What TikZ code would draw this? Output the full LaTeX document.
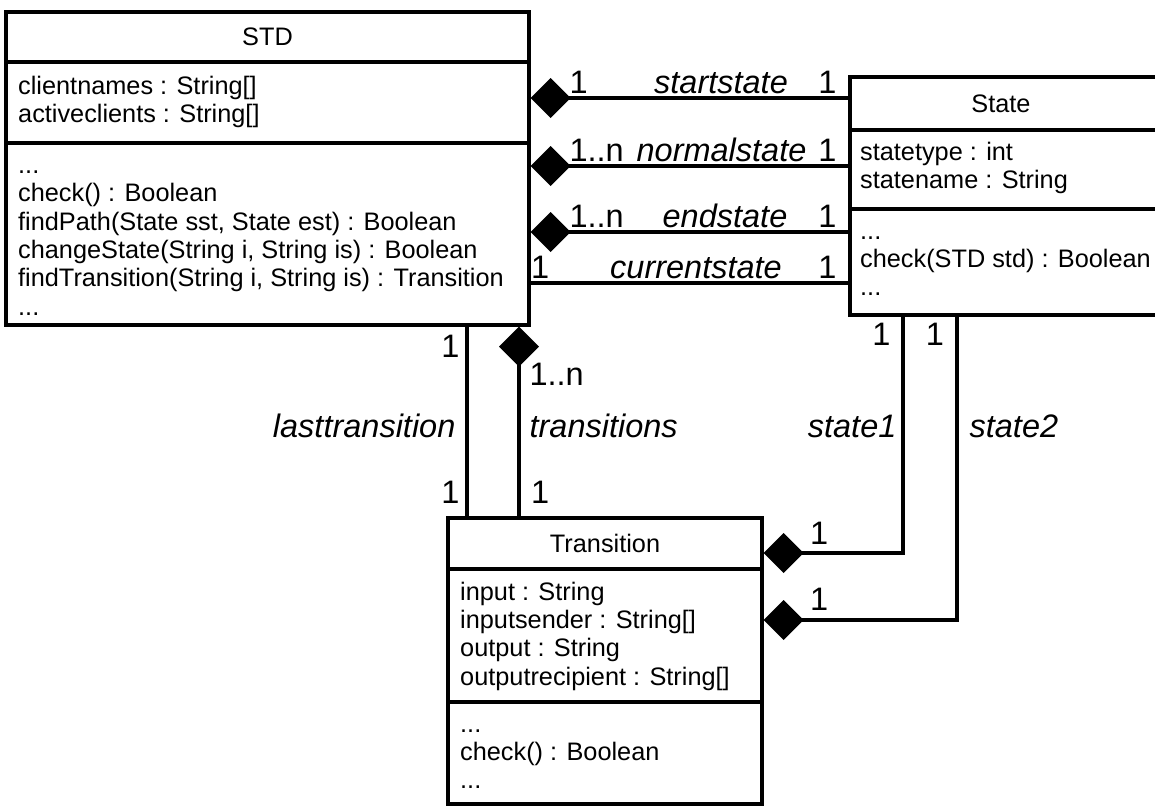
\documentclass[tikz,border=0pt]{standalone}
\usepackage{fontspec}
\setmainfont{Liberation Sans}
\usetikzlibrary{arrows.meta}
\newcommand{\clsfont}{\fontsize{25.3}{28.3}\selectfont}
\newcommand{\asfont}{\fontsize{32.5}{36}\selectfont}

\begin{document}
\begin{tikzpicture}[x=1pt,y=-1pt,cls/.style={draw,line width=3.2pt,inner sep=0pt},hdr/.style={inner sep=0pt,font=\clsfont},txt/.style={inner sep=0pt,anchor=north west,align=left,font=\clsfont},sep/.style={line width=3.2pt},sepb/.style={line width=4.6pt},assoc/.style={line width=3.2pt},dia/.style={assoc,{Diamond[length=40pt,width=40pt]}-},diaend/.style={assoc,-{Diamond[length=40pt,width=40pt]}},mult/.style={inner sep=0pt,font=\asfont},role/.style={inner sep=0pt,font=\asfont\itshape}]
\useasboundingbox (0,0) rectangle (1155,806);
% classes
\node[cls,minimum width=523pt,minimum height=313pt] (std) at (267.5,168.5) {};
\node[cls,minimum width=310pt,minimum height=238pt] (state) at (1005,196) {};
\node[cls,minimum width=314pt,minimum height=286pt] (trans) at (605,661) {};
\draw[sep] (std.west |- 0,62) -- (std.east |- 0,62); \draw[sepb] (std.west |- 0,143) -- (std.east |- 0,143);
\draw[sep] (state.west |- 0,130) -- (state.east |- 0,130); \draw[sepb] (state.west |- 0,209) -- (state.east |- 0,209);
\draw[sep] (trans.west |- 0,569) -- (trans.east |- 0,569); \draw[sepb] (trans.west |- 0,702) -- (trans.east |- 0,702);
\node[hdr] (std-name) at (267.5,37) {STD};
\node[txt] (std-attr) at (18,74.2) {\strut clientnames : String[]\\activeclients : String[]};
\node[txt] (std-ops) at (18,153.5) {\strut...\\check() : Boolean\\findPath(State sst, State est) : Boolean\\changeState(String i, String is) : Boolean\\findTransition(String i, String is) : Transition\\...};
\node[hdr] (state-name) at (1001,103.5) {State};
\node[txt] (state-attr) at (860,140.2) {\strut statetype : int\\statename : String};
\node[txt] (state-ops) at (860,219.2) {\strut...\\check(STD std) : Boolean\\...};
\node[hdr] (trans-name) at (605,543.5) {Transition};
\node[txt] (trans-attr) at (460,580.2) {\strut input : String\\inputsender : String[]\\output : String\\outputrecipient : String[]};
\node[txt] (trans-ops) at (460,712.2) {\strut...\\check() : Boolean\\...};
% STD -- State
\foreach \y/\m/\r/\c in {98/1/startstate/721,166/1..n/normalstate/721.5,232/1..n/endstate/725}{
\draw[dia] (std.east |- 0,\y) -- (state.west |- 0,\y) node[mult,anchor=base west] (m-\r) at (568,\y-5) {\m} node[role,anchor=base] (r-\r) at (\c,\y-5) {\r} node[mult,anchor=base east] (n-\r) at (838,\y-5) {1};}
\draw[assoc] (std.east |- 0,283) -- (state.west |- 0,283) node[mult,anchor=base west] (m-currentstate) at (529.5,278) {1} node[role,anchor=base] (r-currentstate) at (696,278) {currentstate} node[mult,anchor=base east] (n-currentstate) at (838,278) {1};
% STD -- Transition
\draw[assoc] (467,0 |- std.south) -- (467,0 |- trans.north) node[mult,anchor=base east] (m-last) at (461,357) {1} node[role,anchor=base east] (r-last) at (457,437) {lasttransition} node[mult,anchor=base east] (n-last) at (461,503) {1};
\draw[dia] (519,0 |- std.south) -- (519,0 |- trans.north) node[mult,anchor=base west] (m-trans) at (528,385) {1..n} node[role,anchor=base west] (r-trans) at (528,437) {transitions} node[mult,anchor=base west] (n-trans) at (529.5,503) {1};
% State -- Transition
\draw[diaend] (903,0 |- state.south) |- (trans.east |- 0,553) node[mult,anchor=base east] (m-s1) at (892,345) {1} node[role,anchor=base east] (r-s1) at (898,437) {state1} node[mult,anchor=base west] (n-s1) at (808.5,544) {1};
\draw[diaend] (957,0 |- state.south) |- (trans.east |- 0,620) node[mult,anchor=base east] (m-s2) at (945.6,345) {1} node[role,anchor=base west] (r-s2) at (968,437) {state2} node[mult,anchor=base west] (n-s2) at (808.5,610) {1};
\end{tikzpicture}
\end{document}
